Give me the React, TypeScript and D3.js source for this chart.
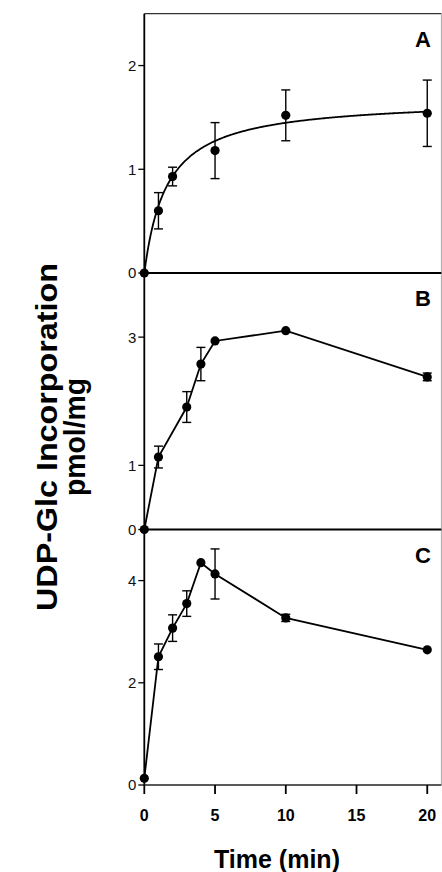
import React from 'react';
import * as d3 from 'd3';

// time points (min) and values (pmol/mg)
const timeA = [0, 1, 2, 5, 10, 20];
const valA = [0, 0.6, 0.93, 1.18, 1.52, 1.54];
const errA = [0, 0.175, 0.09, 0.27, 0.245, 0.32];
// hyperbolic fit drawn through panel A
const fitVmax = 1.68;
const fitKm = 1.6;

const timeB = [0, 1, 3, 4, 5, 10, 20];
const valB = [0, 1.13, 1.91, 2.58, 2.94, 3.1, 2.38];
const errB = [0, 0.17, 0.24, 0.26, 0, 0, 0.06];

const timeC = [0, 1, 2, 3, 4, 5, 10, 20];
const valC = [0.13, 2.51, 3.07, 3.55, 4.35, 4.13, 3.27, 2.645];
const errC = [0, 0.25, 0.26, 0.25, 0, 0.49, 0.07, 0];

const xTicks = [0, 5, 10, 15, 20];
const yTicksA = [0, 1, 2];
const yTicksB = [0, 1, 3];
const yTicksC = [0, 2, 4];

const W = 442;
const H = 872;
const left = 144.3;
const right = 441.4;

const x = d3.scaleLinear().domain([0, 21]).range([left, right]);

const panels = [
  { label: 'A', t: timeA, v: valA, e: errA, ticks: yTicksA, y: d3.scaleLinear().domain([0, 2.5]).range([273, 13.7]), fit: true },
  { label: 'B', t: timeB, v: valB, e: errB, ticks: yTicksB, y: d3.scaleLinear().domain([0, 4]).range([529.5, 273]), fit: false },
  { label: 'C', t: timeC, v: valC, e: errC, ticks: yTicksC, y: d3.scaleLinear().domain([0, 5]).range([785, 529.5]), fit: false },
];

const font = 'Liberation Sans, Arial, Helvetica, sans-serif';

const Panel = ({ p }: { p: any }) => {
  const y = p.y;
  let path = '';
  if (p.fit) {
    const xs = d3.range(0, 20.01, 0.1);
    path = d3.line<number>().x(d => x(d)).y(d => y((fitVmax * d) / (fitKm + d))).curve(d3.curveBasis)(xs) || '';
  } else {
    path = d3.line<number>().x((d, i) => x(p.t[i])).y(d => y(d))(p.v) || '';
  }
  const [y0] = y.range();
  return (
    <g>
      {p.ticks.map((t: number) => (
        <g key={t}>
          <line x1={left - 6} x2={left} y1={y(t)} y2={y(t)} stroke="#000" strokeWidth={1.3} />
          <text x={left - 8} y={y(t)} dy="0.36em" textAnchor="end" fontSize={15} fontFamily={font} fill="#111">{t}</text>
        </g>
      ))}
      {p.label !== 'C' && (
        <line x1={left} x2={right} y1={y0} y2={y0} stroke="#000" strokeWidth={2} />
      )}
      <path d={path} fill="none" stroke="#000" strokeWidth={1.8} />
      {p.t.map((t: number, i: number) => {
        const e = p.e[i];
        const cx = x(t);
        return (
          <g key={i}>
            {e > 0 && (
              <g stroke="#000" strokeWidth={1.4}>
                <line x1={cx} x2={cx} y1={y(p.v[i] - e)} y2={y(p.v[i] + e)} />
                <line x1={cx - 4.5} x2={cx + 4.5} y1={y(p.v[i] - e)} y2={y(p.v[i] - e)} />
                <line x1={cx - 4.5} x2={cx + 4.5} y1={y(p.v[i] + e)} y2={y(p.v[i] + e)} />
              </g>
            )}
            <circle cx={cx} cy={y(p.v[i])} r={4.6} fill="#000" />
          </g>
        );
      })}
      <text x={423} y={y.range()[1] + 33} textAnchor="middle" fontSize={22} fontWeight="bold" fontFamily={font}>{p.label}</text>
    </g>
  );
};

export default function App() {
  const bottom = 785;
  return (
    <svg width={W} height={H} style={{ position: 'absolute', left: 0, top: 0, background: '#fff' }}>
      <rect width={W} height={H} fill="#fff" />
      {/* frame */}
      <line x1={left} x2={right} y1={13.7} y2={13.7} stroke="#333" strokeWidth={1.2} />
      <line x1={right} x2={right} y1={13.7} y2={bottom} stroke="#aaa" strokeWidth={1} />
      <line x1={left} x2={left} y1={13.7} y2={bottom} stroke="#000" strokeWidth={1.8} />
      <line x1={left} x2={right} y1={bottom} y2={bottom} stroke="#222" strokeWidth={1.5} />
      {panels.map(p => <Panel key={p.label} p={p} />)}
      {xTicks.map(t => (
        <g key={t}>
          <line x1={x(t)} x2={x(t)} y1={bottom} y2={bottom + 9} stroke="#000" strokeWidth={1.8} />
          <text x={x(t)} y={bottom + 36} textAnchor="middle" fontSize={16} fontWeight="bold" fontFamily={font}>{t}</text>
        </g>
      ))}
      <text x={277} y={868} textAnchor="middle" fontSize={25} fontWeight="bold" fontFamily={font}>Time (min)</text>
      <g transform="translate(57,437) rotate(-90)">
        <text x={0} y={0} textAnchor="middle" fontSize={30} fontWeight="bold" fontFamily={font} textLength={348} lengthAdjust="spacingAndGlyphs">UDP-Glc Incorporation</text>
        <text x={0} y={28} textAnchor="middle" fontSize={30} fontWeight="bold" fontFamily={font} textLength={118} lengthAdjust="spacingAndGlyphs">pmol/mg</text>
      </g>
    </svg>
  );
}
